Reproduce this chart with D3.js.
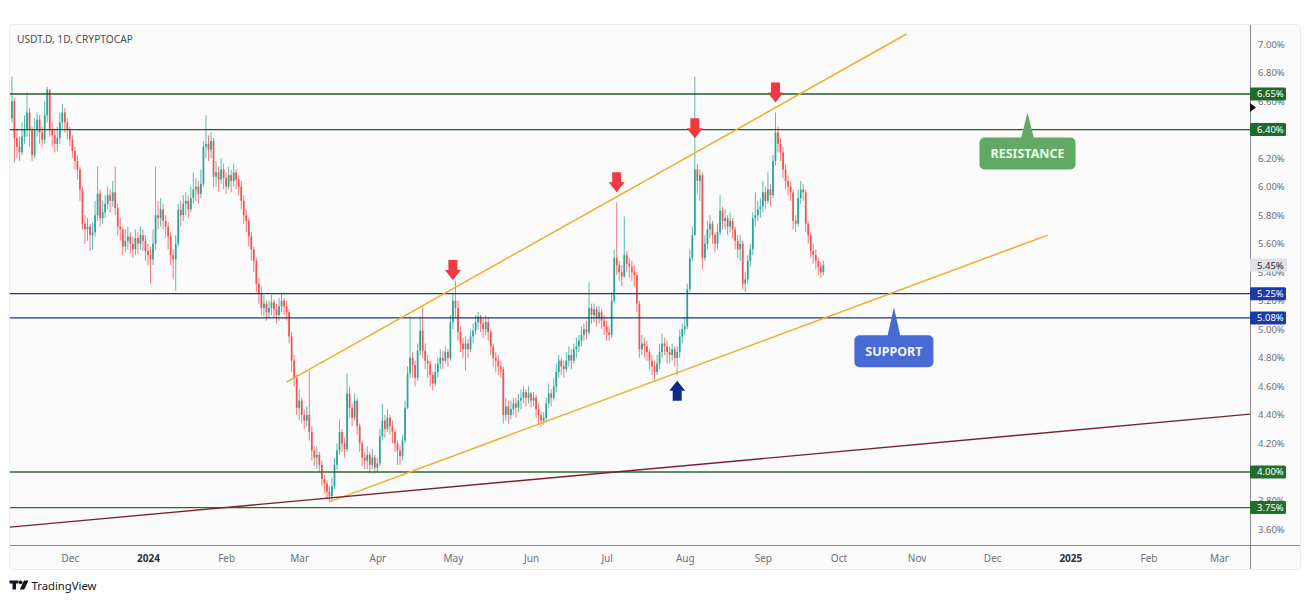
<!DOCTYPE html>
<html><head><meta charset="utf-8">
<script src="https://cdn.jsdelivr.net/npm/d3@7"></script>
<style>body{margin:0;background:#fff;}svg{display:block;}</style>
</head><body>
<svg id="c" width="1306" height="602"></svg>
<script>
// ---------- DATA ----------
const title = "USDT.D, 1D, CRYPTOCAP";
const startDate = "2023-11-08";       // first daily candle
const firstOpenBp = 648;               // open of first candle (basis points of dominance)
const closeBp = [
660,634,628,624,635,640,652,640,622,640,
647,638,633,650,668,640,636,630,634,645,
652,645,640,633,625,618,612,598,574,570,
572,566,568,580,595,578,582,588,594,590,
596,585,572,570,558,562,565,560,556,564,
560,566,562,555,552,549,560,580,578,584,
576,572,565,552,549,560,584,580,588,590,
584,592,598,600,595,602,628,630,626,632,
607,610,605,612,606,600,608,604,610,605,
600,590,580,576,565,556,548,532,525,515,
518,512,515,519,514,510,516,520,516,512,
495,478,466,445,450,440,436,440,428,415,
410,412,405,395,392,386,383,390,405,415,
428,420,416,455,445,438,450,432,420,410,
408,412,405,410,403,406,425,436,430,438,
432,428,420,415,411,422,445,469,480,475,
466,485,499,485,478,476,468,462,470,476,
480,478,484,480,505,520,515,498,490,486,
490,486,495,499,505,509,504,500,505,498,
488,480,478,474,472,440,446,440,444,448,
445,450,452,456,452,455,450,452,444,440,
436,438,448,455,452,460,470,478,474,472,
478,482,478,486,488,492,496,500,498,515,
510,514,508,512,506,502,498,496,520,550,
545,540,537,552,546,544,540,538,518,486,
490,488,484,478,474,470,476,484,490,488,
484,482,486,480,484,495,500,502,528,550,
566,612,604,608,550,560,570,574,566,560,
568,583,576,578,572,576,570,562,556,560,
532,535,548,556,578,580,584,586,596,590,
598,594,618,638,630,624,612,604,600,596,
576,574,592,598,596,574,566,555,552,548,
544,540,545];
const highBp = [
677,662,640,635,645,650,666,655,642,648,
652,650,642,660,670,668,645,640,642,652,
658,655,648,642,636,628,622,614,600,580,
578,574,575,590,614,598,590,594,600,598,
604,614,588,578,572,570,572,568,565,570,
568,572,570,566,560,558,570,614,590,592,
588,580,575,568,556,566,588,590,594,596,
594,600,610,606,604,612,632,650,636,638,
634,618,614,620,616,610,614,612,616,612,
608,604,594,584,578,568,558,550,536,530,
524,520,520,524,521,518,522,525,522,520,
514,498,482,468,458,452,444,446,471,432,
418,418,414,408,398,394,390,396,410,420,
437,430,424,469,460,448,455,452,434,422,
414,418,414,416,412,410,430,448,440,444,
440,436,430,422,418,426,450,474,509,484,
478,490,509,516,490,482,478,470,476,480,
486,485,488,486,510,525,534,520,502,494,
495,493,500,504,510,512,510,508,510,508,
500,490,484,482,478,474,452,450,450,452,
452,455,458,460,458,460,456,456,454,448,
442,442,452,462,458,466,476,482,480,478,
484,488,486,490,494,496,502,504,506,533,
518,518,516,516,514,510,506,502,526,556,
589,548,545,579,555,550,548,545,540,520,
496,494,492,486,482,478,482,490,497,494,
492,488,490,488,488,500,504,508,532,556,
572,677,616,612,610,566,576,580,576,568,
574,594,586,584,580,582,578,572,566,566,
562,540,552,560,582,596,590,592,604,600,
610,602,622,652,642,634,628,616,608,604,
598,580,598,604,602,598,576,568,560,556,
550,547,548];
const lowBp = [
645,617,620,618,622,630,635,628,618,620,
635,630,628,630,645,635,628,624,625,630,
640,638,633,628,620,612,605,590,570,560,
562,555,556,565,576,572,574,578,584,582,
586,580,566,562,552,554,556,553,550,552,
553,556,555,548,545,532,545,556,570,572,
570,564,556,545,535,527,558,572,576,580,
578,582,588,590,588,592,600,620,618,620,
600,600,596,602,598,595,598,596,600,598,
594,584,574,568,558,548,540,526,518,510,
509,506,508,510,508,504,506,512,510,506,
490,470,460,440,436,434,430,432,422,408,
404,402,400,390,385,381,379,380,388,402,
412,414,410,414,438,432,436,426,414,404,
402,402,399,402,399,400,404,422,424,428,
426,420,414,405,405,408,420,444,466,466,
460,464,482,480,472,466,460,457,460,466,
472,472,476,474,478,500,508,492,484,480,
471,480,484,490,496,500,498,494,496,492,
482,474,470,468,466,434,436,434,437,440,
438,442,444,448,446,448,445,446,438,434,
432,433,435,445,446,450,456,466,468,466,
470,474,472,476,480,484,488,492,493,496,
504,505,502,504,500,496,492,492,494,518,
538,534,530,536,540,536,534,530,512,480,
482,480,478,472,468,464,468,472,480,482,
476,476,478,474,468,480,490,496,500,526,
548,566,595,590,542,548,556,564,560,554,
556,566,570,570,566,568,564,556,550,548,
528,526,532,544,552,572,576,578,582,584,
588,586,592,615,624,618,606,598,594,590,
570,568,572,588,590,568,560,550,546,542,
538,536,538];

const levelValues = [6.65, 6.40, 5.25, 5.08, 4.00, 3.75];
const levelKinds  = ["res", "res", "sup", "sup", "base", "base"];
const lastPrice = 5.45;
const alertValue = 6.555;

const yTickValues = [3.6,3.8,4.0,4.2,4.4,4.6,4.8,5.0,5.2,5.4,5.6,5.8,6.0,6.2,6.4,6.6,6.8,7.0];
const xTickDates = ["2023-12-01","2024-01-01","2024-02-01","2024-03-01","2024-04-01","2024-05-01","2024-06-01","2024-07-01","2024-08-01","2024-09-01","2024-10-01","2024-11-01","2024-12-01","2025-01-01","2025-02-01","2025-03-01"];
const xTickLabels = ["Dec","2024","Feb","Mar","Apr","May","Jun","Jul","Aug","Sep","Oct","Nov","Dec","2025","Feb","Mar"];

const trendLines = [
  {kind:"channel", p1:["2024-02-25", 4.63], p2:["2024-10-28", 7.07]},
  {kind:"channel", p1:["2024-03-13", 3.79], p2:["2024-12-23", 5.66]},
  {kind:"long",    p1:["2023-11-01", 3.603], p2:["2025-03-20", 4.416]}
];
const arrowMarks = [
  {date:"2024-05-01", value:5.345, dir:"down"},
  {date:"2024-07-05", value:5.96,  dir:"down"},
  {date:"2024-08-05", value:6.34,  dir:"down"},
  {date:"2024-09-06", value:6.59,  dir:"down"},
  {date:"2024-07-29", value:4.64,  dir:"up"}
];
const callouts = [
  {text:"RESISTANCE", date:"2024-12-15", value:6.52, kind:"res"},
  {text:"SUPPORT",    date:"2024-10-23", value:5.155, kind:"sup"}
];

// ---------- STYLE / LAYOUT ----------
const X0 = 10, X1 = 1250, Y0 = 25, Y1 = 545;
const UP = "#26a69a", DOWN = "#ef5350";
const levelLine = {res:"#1f5f25", sup:"#1d3878", base:"#2a6a2a"};
const levelBox  = {res:"#1e6a2a", sup:"#1a3aa8", base:"#226e2a"};
const calloutFill = {res:"#63a865", sup:"#476ad4"};
const calloutText = {res:"#eafbe6", sup:"#f2f5ff"};
const calloutBox = {res:{w:96,h:32,gap:25}, sup:{w:79,h:32,gap:28}};
const FONT = "'Noto Sans', 'DejaVu Sans', sans-serif";

const parse = d3.utcParse("%Y-%m-%d");
const x = d3.scaleUtc()
  .domain([new Date(Date.UTC(2023,10,7,5,46)), new Date(Date.UTC(2025,2,13,7,12))])
  .range([X0, X1]);
const y = d3.scaleLinear().domain([3.4878, 7.1332]).range([Y1, Y0]);

const start = parse(startDate);
const candles = closeBp.map((c, i) => ({
  date: d3.utcDay.offset(start, i),
  open: (i === 0 ? firstOpenBp : closeBp[i-1]) / 100,
  close: c / 100, high: highBp[i] / 100, low: lowBp[i] / 100
}));

const svg = d3.select("#c");
svg.append("rect").attr("width",1306).attr("height",602).attr("fill","#ffffff");
svg.append("rect").attr("x",9.5).attr("y",24.5).attr("width",1291).attr("height",545)
  .attr("rx",3).attr("fill","#fbfbfc").attr("stroke","#ececee");

svg.append("defs").append("clipPath").attr("id","plot")
  .append("rect").attr("x",X0).attr("y",Y0).attr("width",X1-X0).attr("height",Y1-Y0);
const plot = svg.append("g").attr("clip-path","url(#plot)");

// candles
const dayW = x(d3.utcDay.offset(start,1)) - x(start);
const bw = Math.max(1, dayW*0.68);
const cg = plot.append("g");
cg.selectAll("line").data(candles).join("line")
  .attr("x1", d => x(d.date)).attr("x2", d => x(d.date))
  .attr("y1", d => y(d.high)).attr("y2", d => y(d.low))
  .attr("stroke", d => d.close >= d.open ? UP : DOWN).attr("stroke-width",0.9).attr("stroke-opacity",0.85);
cg.selectAll("rect").data(candles).join("rect")
  .attr("x", d => x(d.date) - bw/2).attr("width", bw)
  .attr("y", d => y(Math.max(d.open,d.close)))
  .attr("height", d => Math.max(0.8, Math.abs(y(d.open)-y(d.close))))
  .attr("fill", d => d.close >= d.open ? UP : DOWN);

// horizontal levels
plot.selectAll("line.lvl").data(levelValues).join("line").attr("class","lvl")
  .attr("x1",X0).attr("x2",X1).attr("y1",d=>y(d)).attr("y2",d=>y(d))
  .attr("stroke",(d,i)=>levelLine[levelKinds[i]]).attr("stroke-width",1.4);

// trend lines
plot.selectAll("line.tl").data(trendLines).join("line").attr("class","tl")
  .attr("x1",d=>x(parse(d.p1[0]))).attr("y1",d=>y(d.p1[1]))
  .attr("x2",d=>x(parse(d.p2[0]))).attr("y2",d=>y(d.p2[1]))
  .attr("stroke",d=>d.kind==="channel"?"#f2ac2c":"#7c2030")
  .attr("stroke-width",d=>d.kind==="channel"?1.5:1.4);

// arrows
const arrowPath = (tx, ty, dir) => {
  const s = dir === "down" ? -1 : 1;
  return d3.line()([[tx-4.5,ty+s*20],[tx+4.5,ty+s*20],[tx+4.5,ty+s*10],[tx+8,ty+s*10],[tx,ty],[tx-8,ty+s*10],[tx-4.5,ty+s*10]]) + "Z";
};
svg.selectAll("path.arr").data(arrowMarks).join("path").attr("class","arr")
  .attr("d", d => arrowPath(x(parse(d.date)), y(d.value), d.dir))
  .attr("fill", d => d.dir === "down" ? "#f0383f" : "#102a8c");

// callouts
callouts.forEach(c => {
  const tx = x(parse(c.date)), ty = y(c.value), b = calloutBox[c.kind];
  const g = svg.append("g");
  const top = ty + b.gap;
  g.append("path").attr("d", d3.line()([[tx-6.5, top+1],[tx, ty],[tx+6.5, top+1]])+"Z").attr("fill", calloutFill[c.kind]);
  g.append("rect").attr("x", tx-b.w/2).attr("y", top).attr("width", b.w).attr("height", b.h).attr("rx",5)
    .attr("fill", calloutFill[c.kind]);
  g.append("text").attr("x", tx).attr("y", top + b.h/2).attr("text-anchor","middle").attr("dominant-baseline","central")
    .attr("font-family", FONT).attr("font-weight","bold").attr("font-size",12.5)
    .attr("fill", calloutText[c.kind]).text(c.text);
});

// axes frame
svg.append("line").attr("x1",X0).attr("x2",1300).attr("y1",Y1+0.5).attr("y2",Y1+0.5).attr("stroke","#8a8a8e");
svg.append("line").attr("x1",X1+0.5).attr("x2",X1+0.5).attr("y1",Y0).attr("y2",569).attr("stroke","#8a8a8e");

// y axis
const yAxis = svg.append("g").attr("transform",`translate(${X1},0)`)
  .call(d3.axisRight(y).tickValues(yTickValues).tickSize(0).tickPadding(8).tickFormat(d => d3.format(".2f")(d) + "%"));
yAxis.select(".domain").remove();
yAxis.selectAll("text").attr("font-family",FONT).attr("font-size",9.5).attr("fill","#6b6e78");

// x axis
const xAxis = svg.append("g").attr("transform",`translate(0,${Y1})`)
  .call(d3.axisBottom(x).tickValues(xTickDates.map(parse)).tickSize(0).tickPadding(9.5).tickFormat((d,i) => xTickLabels[i]));
xAxis.select(".domain").remove();
xAxis.selectAll("text").attr("font-family",FONT).attr("font-size",10)
  .attr("fill",(d,i)=>/^\d{4}$/.test(xTickLabels[i])?"#2a2e39":"#6b6e78")
  .attr("font-weight",(d,i)=>/^\d{4}$/.test(xTickLabels[i])?"bold":"normal");

// level labels on price scale (drawn over the scale's own tick labels, as in the original)
const lg = svg.append("g");
levelValues.forEach((v,i) => {
  lg.append("rect").attr("x",X1).attr("y",y(v)-6.5).attr("width",36).attr("height",13).attr("rx",1.5)
    .attr("fill", levelBox[levelKinds[i]]);
  lg.append("text").attr("x",X1+7).attr("y",y(v)).attr("dominant-baseline","central")
    .attr("font-family",FONT).attr("font-size",9.5).attr("fill","#ffffff").text(d3.format(".2f")(v)+"%");
});
lg.append("rect").attr("x",X1).attr("y",y(lastPrice)-6.5).attr("width",37).attr("height",13).attr("fill","#dfe1e6");
lg.append("text").attr("x",X1+7).attr("y",y(lastPrice)).attr("dominant-baseline","central")
  .attr("font-family",FONT).attr("font-size",9.5).attr("fill","#2a2e39").text(d3.format(".2f")(lastPrice)+"%");
lg.append("path").attr("d", d3.line()([[X1, y(alertValue)-4.5],[X1+6, y(alertValue)],[X1, y(alertValue)+4.5]])+"Z").attr("fill","#111");

// title
svg.append("text").attr("x",17).attr("y",42.5).attr("font-family",FONT).attr("font-size",10.2)
  .attr("fill","#4a4d55").text(title);

// TradingView logo
const logo = svg.append("g").attr("fill","#131722");
logo.append("path").attr("d","M9.5 580.5 H18.5 V583.5 H16 V589.5 H12.5 V583.5 H9.5 Z");
logo.append("circle").attr("cx",20.6).attr("cy",582.3).attr("r",1.9);
logo.append("path").attr("d","M24 580.5 H28.5 L24.3 589.5 H19.8 Z");
svg.append("text").attr("x",31.5).attr("y",590).attr("font-family",FONT).attr("font-size",11.3)
  .attr("fill","#131722").text("TradingView");
</script>
</body></html>
